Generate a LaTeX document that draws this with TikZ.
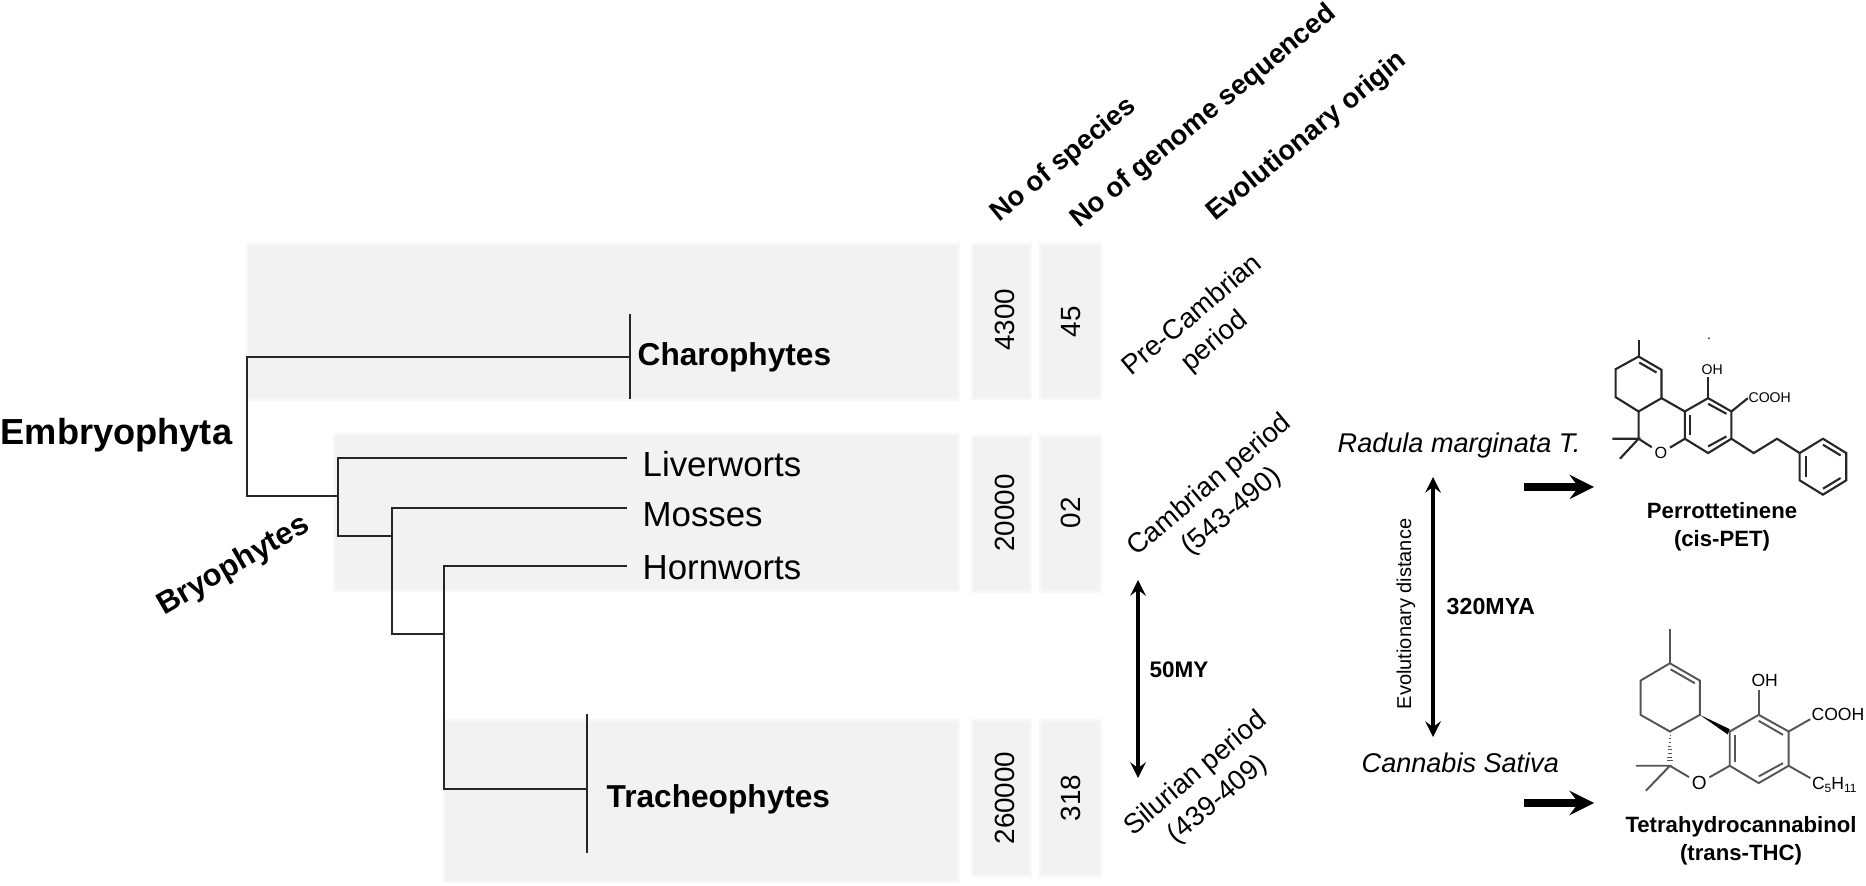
\documentclass[tikz,border=0pt]{standalone}
\usepackage{fontspec}
\setmainfont{Liberation Sans}
\usetikzlibrary{arrows,positioning}
\definecolor{boxgray}{HTML}{F2F2F2}
\definecolor{boxedge}{HTML}{F8F8F8}
\definecolor{bondgray}{HTML}{555555}
\newcommand{\fs}[1]{\fontsize{#1}{9.7pt}\selectfont}

\begin{document}
\begin{tikzpicture}[
x=0.01cm,y=-0.01cm,
every node/.style={inner sep=0pt},
greybox/.style={fill=boxgray,draw=boxedge,line width=0.5pt},
branch/.style={line width=0.55pt,draw=black!85},
twoway/.style={<->,>=stealth,line width=0.95pt},
bigarrow/.style={->,>=stealth,line width=2pt},
taxonbold/.style={font=\bfseries\fs{9}},
taxonplain/.style={font=\fs{9.9}},
header/.style={font=\bfseries\fs{7.8},rotate=39.5},
period/.style={font=\fs{7.85},rotate=40,align=center},
count/.style={font=\fs{7.9},rotate=90},
species/.style={font=\itshape\fs{7.7}},
molname/.style={font=\bfseries\fontsize{6.3}{8}\selectfont,align=center},
bond/.style={line width=0.6pt,draw=black!85},
bondb/.style={line width=0.55pt,draw=bondgray},
]
    \useasboundingbox (0,0) rectangle (1866,886);

    % Grey bands
    \draw[greybox] (247,244) rectangle (959,400);
    \draw[greybox] (334,434) rectangle (959,591);
    \draw[greybox] (444,720) rectangle (959,882);
    \foreach \ytop/\ybot in {244/399,436/592,720/876} {
        \draw[greybox] (972,\ytop) rectangle (1031,\ybot);
        \draw[greybox] (1040,\ytop) rectangle (1101,\ybot);
    }

    % Tree
    \coordinate (root) at (247,496);
    \coordinate (charo) at (630,357);
    \coordinate (bryo) at (338,496);
    \coordinate (bryolow) at (338,536);
    \coordinate (moss) at (392,536);
    \coordinate (mosslow) at (392,634);
    \coordinate (horn) at (444,634);
    \coordinate (trach) at (587,789);
    \node[taxonplain,anchor=west] (liver) at (642,464) {Liverworts};
    \node[taxonplain,anchor=west] (mosses) at (642,515) {Mosses};
    \node[taxonplain,anchor=west] (hornw) at (642,568) {Hornworts};
    \node[taxonbold,anchor=west] (charolab) at (637,357) {Charophytes};
    \node[taxonbold,anchor=west] (trachlab) at (606,799) {Tracheophytes};
    \node[font=\bfseries\fs{10.3},anchor=west] (embryo) at (0,435) {Embryophyta};
    \node[font=\bfseries\fs{8.8},rotate=30] (bryolab) at (234,566) {Bryophytes};

    \draw[branch] (charo) -| (root) -- (bryo);
    \draw[branch] (630,314) -- (630,399);
    \draw[branch] (627,458) -| (bryo) -- (bryolow) -- (moss);
    \draw[branch] (627,508) -| (moss) -- (mosslow) -- (horn);
    \draw[branch] (627,566) -| (horn) |- (trach);
    \draw[branch] (587,714) -- (587,853);

    % Column heads
    \node[header] (nospecies) at (1064,160) {No of species};
    \node[header] (nogenome) at (1204,117) {No of genome sequenced};
    \node[header] (evoorigin) at (1307,137) {Evolutionary origin};

    % Counts
    \node[count] (spa) at (1005,320) {4300};
    \node[count] (gea) at (1071,322) {45};
    \node[count] (spb) at (1005,513) {20000};
    \node[count] (geb) at (1071,513) {02};
    \node[count] (spc) at (1005,798) {260000};
    \node[count] (gec) at (1071,798) {318};

    % Periods
    \node[period] (precamb) at (1204,329) {Pre-Cambrian\\period};
    \node[period] (camb) at (1221,499) {Cambrian period\\(543-490)};
    \node[period] (silur) at (1207,787) {Silurian period\\(439-409)};

    \coordinate (fiftytop) at (1138,580);
    \coordinate (fiftybot) at (1138,778);
    \draw[twoway] (fiftytop) -- (fiftybot);
    \node[font=\bfseries\fs{6.4},anchor=west] (fifty) at (1149,670) {50MY};

    % Right side
    \node[species,anchor=west] (radula) at (1337,446) {Radula marginata T.};
    \node[species,anchor=west] (cannabis) at (1361,763) {Cannabis Sativa};
    \coordinate (disttop) at (1433,477);
    \coordinate (distbot) at (1433,737);
    \draw[twoway] (disttop) -- (distbot);
    \node[font=\fs{5.7},rotate=90] (evodist) at (1406,614) {Evolutionary distance};
    \node[font=\bfseries\fs{6.6},anchor=west] (mya) at (1446,607) {320MYA};

    \coordinate (peta) at (1524,487);
    \coordinate (petb) at (1594,487);
    \coordinate (thca) at (1524,803);
    \coordinate (thcb) at (1594,803);
    \draw[bigarrow] (peta) -- (petb);
    \draw[bigarrow] (thca) -- (thcb);

    \node[molname] (petname) at (1722,527) {Perrottetinene\\(cis-PET)};
    \node[molname] (thcname) at (1741,841) {Tetrahydrocannabinol\\(trans-THC)};

    % PET
    \begin{scope}[shift={(1580,290)},x=0.00333cm,y=-0.00333cm]
    \node[font=\fs{4}] (petoh) at (397,240) {OH};
    \node[font=\fs{4}] (petacid) at (570,325) {COOH};
    \node[font=\fs{4.6},inner sep=0.6pt] (peto) at (243,490) {O};
    \node[font=\fs{4}] (petdot) at (388,147) {.};
    \draw[bond] (176,150) -- (176,200);
    \draw[bond] (176,200) -- (245,240) -- (245,325) -- (176,365) -- (107,322) -- (107,238) -- cycle;
    \draw[bond] (178,218) -- (230,248);
    \draw[bond] (245,325) -- (315,365);
    \draw[bond] (315,365) -- (385,325) -- (455,365) -- (455,447) -- (385,490) -- (315,447) -- cycle;
    \draw[bond] (176,365) -- (176,447) -- (peto) -- (315,447);
    \draw[bond] (97,447) -- (176,447) -- (120,507);
    \draw[bond] (330,375) -- (330,437);
    \draw[bond] (385,342) -- (440,372);
    \draw[bond] (385,470) -- (440,440);
    \draw[bond] (385,325) -- (385,262);
    \draw[bond] (455,365) -- (petacid.west);
    \draw[bond] (455,447) -- (522,490) -- (592,447) -- (660,490);
    \draw[bond] (660,490) -- (730,447) -- (800,490) -- (800,572) -- (730,615) -- (660,572) -- cycle;
    \draw[bond] (678,500) -- (678,562);
    \draw[bond] (730,465) -- (783,497);
    \draw[bond] (730,597) -- (783,565);
    \end{scope}

    % THC
    \begin{scope}[shift={(1580,630)},x=0.00333cm,y=-0.00333cm]
    \node[font=\fs{5}] (thcoh) at (555,152) {OH};
    \node[font=\fs{5}] (thcacid) at (775,255) {COOH};
    \node[font=\fs{5},anchor=west] (thcchain) at (695,465) {C\raisebox{-1pt}{\fs{3.4}5}H\raisebox{-1pt}{\fs{3.4}11}};
    \node[font=\fs{5.4},inner sep=0.6pt] (thco) at (358,460) {O};
    \draw[bondb] (270,-3) -- (270,100);
    \draw[bondb] (270,100) -- (360,152) -- (360,255) -- (270,305) -- (182,255) -- (182,152) -- cycle;
    \draw[bondb] (272,118) -- (345,160);
    \fill[black] (360,255) -- (450,298) -- (444,314) -- cycle;
    \foreach \i in {1,...,8} {
        \draw[bondb,line width=0.3pt] ({270-1.1*\i},{305+11*\i}) -- ({270+1.1*\i},{305+11*\i});
    }
    \draw[bondb] (450,305) -- (537,255) -- (627,305) -- (627,408) -- (537,460) -- (450,408) -- cycle;
    \draw[bondb] (465,315) -- (465,398);
    \draw[bondb] (537,273) -- (610,315);
    \draw[bondb] (537,440) -- (610,400);
    \draw[bondb] (168,408) -- (270,408) -- (198,483);
    \draw[bondb] (270,408) -- (thco) -- (450,408);
    \draw[bondb] (537,255) -- (537,180);
    \draw[bondb] (627,305) -- (692,268);
    \draw[bondb] (627,408) -- (692,445);
    \end{scope}
\end{tikzpicture}
\end{document}
